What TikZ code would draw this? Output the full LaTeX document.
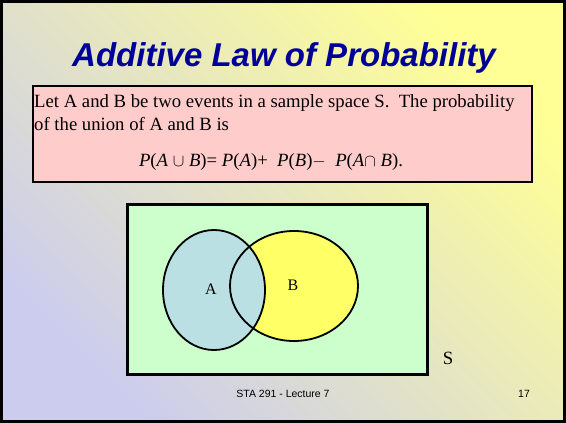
\documentclass[tikz,border=0pt]{standalone}
\usepackage{fontspec}
\setmainfont{Liberation Serif}
\setsansfont{Liberation Sans}
\usetikzlibrary{positioning}
\definecolor{clrTitle}{RGB}{0,0,153}
\definecolor{bgY}{RGB}{255,255,150}
\definecolor{bgL}{RGB}{204,204,238}
\definecolor{clrPink}{RGB}{255,204,204}
\definecolor{clrGreen}{RGB}{204,255,204}
\definecolor{clrA}{RGB}{187,224,227}
\definecolor{clrB}{RGB}{255,255,102}
\tikzset{
  slidetitle/.style={font=\fontsize{33}{38}\selectfont\sffamily\bfseries\itshape,
    text=clrTitle,inner sep=0pt},
  defbox/.style={rectangle,draw=black,line width=2pt,fill=clrPink,
    minimum width=499pt,minimum height=96pt,inner sep=0pt,anchor=north west},
  samplebox/.style={rectangle,draw=black,line width=2.5pt,fill=clrGreen,
    minimum width=300pt,minimum height=170pt,inner sep=0pt,anchor=north west},
  body/.style={font=\fontsize{18.7}{23}\selectfont,align=left,inner sep=0pt},
  setline/.style={draw=black,line width=1.8pt},
  setlabel/.style={font=\fontsize{16}{18}\selectfont,inner sep=0pt},
  footer/.style={font=\fontsize{10.5}{12}\selectfont\sffamily,inner sep=0pt}
}
\newcommand{\It}[1]{\textit{#1}}
\begin{document}
\begin{tikzpicture}[x=1pt,y=-1pt]
  \useasboundingbox (0,0) rectangle (566,423);
  % slide background
  \fill[bottom color=bgL,top color=bgY,shading angle=-45] (0,0) rectangle (566,423);
  \draw[line width=3pt] (1.5,1.5) rectangle (564.5,421.5);
  \node[slidetitle,anchor=base] (ttl) at (284,66) {Additive Law of Probability};
  % definition box
  \node[defbox] (defn) at (32,85) {};
  \node[body,anchor=base west] (txt) at (34,130)
    {Let A and B be two events in a sample space S.\ \ The probability\\of the union of A and B is};
  \node[body,anchor=base] (frm) at (271,166)
    {\It{P}(\It{A}\ $\cup$\ \It{B})= \It{P}(\It{A})+\ \ \It{P}(\It{B})$-$\ \ \It{P}(\It{A}$\cap$\ \It{B}).};
  % venn diagram
  \node[samplebox] (smp) at (126,203) {};
  \fill[clrB] (294,286) ellipse [x radius=64,y radius=55];
  \fill[clrA] (214,290) ellipse [x radius=51,y radius=60];
  \draw[setline] (294,286) ellipse [x radius=64,y radius=55];
  \draw[setline] (214,290) ellipse [x radius=51,y radius=60];
  \node[setlabel] (lblA) at (211,289) {A};
  \node[setlabel] (lblB) at (293,285) {B};
  \node[body] (lblS) at (448,358) {S};
  % footer
  \node[footer] (ftr) at (283,394) {STA 291 - Lecture 7};
  \node[footer] (pg) at (524,394) {17};
\end{tikzpicture}
\end{document}
